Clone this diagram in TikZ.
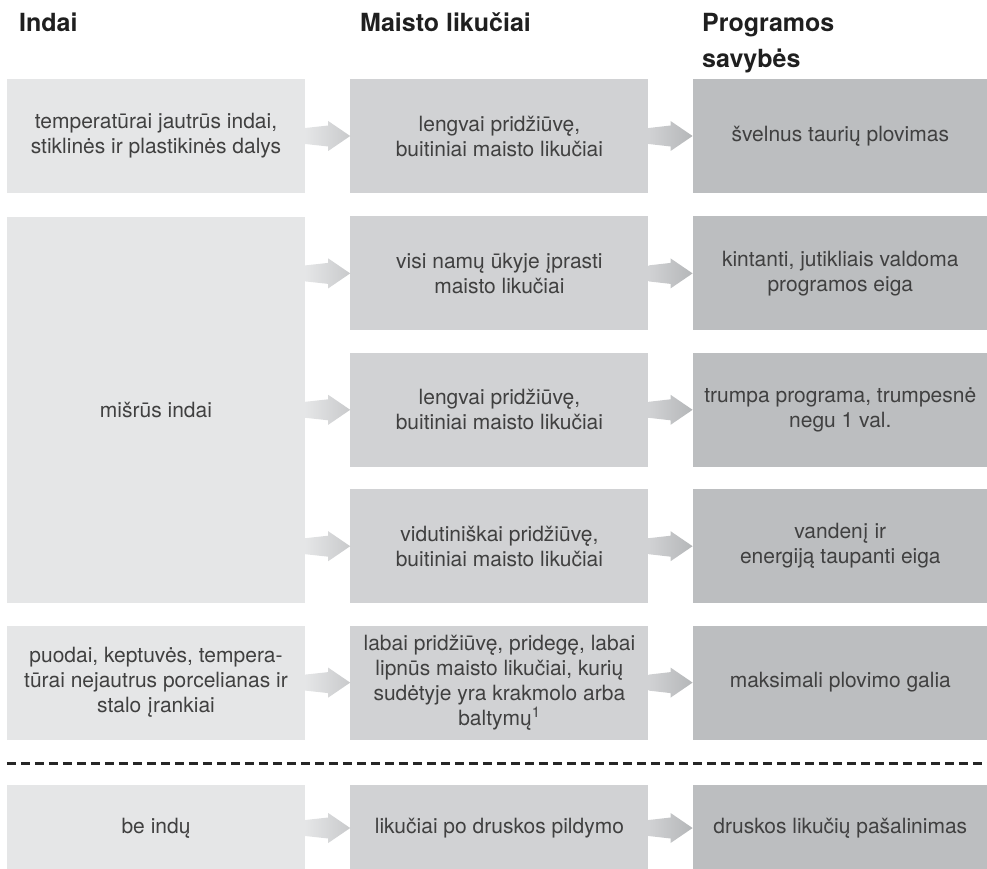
\documentclass[tikz,border=0pt]{standalone}
\usepackage{fontspec}
\setmainfont{TeX Gyre Heros}
\usepackage{xcolor}
\usepackage{tikz}
\usetikzlibrary{positioning,calc}
\definecolor{dishgray}{HTML}{E5E6E7}
\definecolor{foodgray}{HTML}{D1D2D4}
\definecolor{proggray}{HTML}{BCBEC0}
\definecolor{ink}{HTML}{404040}

\begin{document}
\begin{tikzpicture}[x=1pt, y=-1pt,
  box/.style={minimum width=298pt, minimum height=114pt, inner sep=0pt, align=center, text=ink, font=\fontsize{21}{25}\selectfont},
  dish/.style={box, fill=dishgray},
  food/.style={box, fill=foodgray},
  prog/.style={box, fill=proggray, minimum width=295pt},
  head/.style={anchor=base west, inner sep=0pt, align=left, font=\fontsize{25}{36}\selectfont\bfseries, text=black!88},
  arrA/.style={left color=dishgray, right color=foodgray!96!black},
  arrB/.style={left color=foodgray, right color=proggray!96!black},
  sep/.style={dash pattern=on 9pt off 5pt, line width=3pt, black!85}
]
\useasboundingbox (0,0) rectangle (987,869);

% column headings
\node[head] (hdish) at (19,32) {Indai};
\node[head] (hfood) at (360,32) {Maisto likučiai};
\node[head] (hprog) at (702,68) {Programos\\savybės};

% first row
\node[dish] (dish1) at (156,136) {temperatūrai jautrūs indai,\\stiklinės ir plastikinės dalys};
\node[food, right=45pt of dish1] (food1) {lengvai pridžiūvę,\\buitiniai maisto likučiai};
\node[prog, right=44pt of food1] (prog1) {švelnus taurių plovimas};

% mixed dishes
\node[food, below=23pt of food1] (food2) {visi namų ūkyje įprasti\\maisto likučiai};
\node[food, below=22pt of food2] (food3) {lengvai pridžiūvę,\\buitiniai maisto likučiai};
\node[food, below=22pt of food3] (food4) {vidutiniškai pridžiūvę,\\buitiniai maisto likučiai};
\node[dish, minimum height=386pt] (mix) at (dish1 |- food3) {mišrūs indai};
\node[prog, right=44pt of food2] (prog2) {kintanti, jutikliais valdoma\\programos eiga};
\node[prog, right=44pt of food3] (prog3) {trumpa programa, trumpesnė\\negu 1 val.};
\node[prog, right=44pt of food4] (prog4) {vandenį ir\\energiją taupanti eiga};

% pots
\node[food, below=22pt of food4] (food5) {labai pridžiūvę, pridegę, labai\\lipnūs maisto likučiai, kurių\\sudėtyje yra krakmolo arba\\baltymų\textsuperscript{1}};
\node[dish, left=45pt of food5] (pots) {puodai, keptuvės, tempera-\\tūrai nejautrus porcelianas ir\\stalo įrankiai};
\node[prog, right=44pt of food5] (prog5) {maksimali plovimo galia};

\draw[sep] ([yshift=-24pt]pots.south west) -- ([yshift=-24pt]prog5.south east);

% no dishes
\node[food, minimum height=86pt, below=45pt of food5] (food6) {likučiai po druskos pildymo};
\node[dish, minimum height=86pt, left=45pt of food6] (none) {be indų};
\node[prog, minimum height=86pt, right=44pt of food6] (prog6) {druskos likučių pašalinimas};

% arrows
\foreach \src/\dst in {dish1/food1, mix/food2, mix/food3, mix/food4, pots/food5, none/food6}
  \shade[arrA] (\dst.west) -- ++(-22,-15) -- ++(0,4.5) -- ($(\src.east |- \dst.west)+(0,-8)$)
    -- ++(0,16) -- ($(\dst.west)+(-22,10.5)$) -- ++(0,4.5) -- cycle;
\foreach \src/\dst in {food1/prog1, food2/prog2, food3/prog3, food4/prog4, food5/prog5, food6/prog6}
  \shade[arrB] (\dst.west) -- ++(-22,-15) -- ++(0,4.5) -- ($(\src.east |- \dst.west)+(0,-8)$)
    -- ++(0,16) -- ($(\dst.west)+(-22,10.5)$) -- ++(0,4.5) -- cycle;
\end{tikzpicture}
\end{document}
